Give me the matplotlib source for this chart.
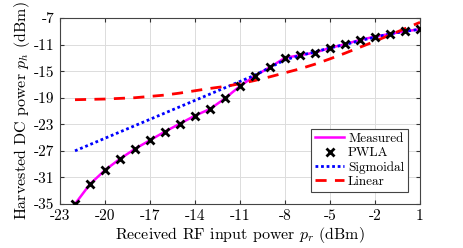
import matplotlib
matplotlib.use("Agg")
import matplotlib.pyplot as plt

pr = [-22, -21, -20, -19, -18, -17, -16, -15, -14, -13, -12, -11,
      -10, -9, -8, -7, -6, -5, -4, -3, -2, -1, 0, 1]
measured = [-35.0, -32.0, -29.9, -28.2, -26.7, -25.4, -24.1, -22.9, -21.7, -20.7,
            -19.1, -17.25, -15.7, -14.4, -13.0, -12.6, -12.2, -11.5, -10.95, -10.3,
            -9.8, -9.4, -9.0, -8.7]
pwla = measured
sigmoidal = [-27.0, -26.05, -25.1, -24.15, -23.2, -22.25, -21.3, -20.35, -19.4, -18.45,
             -17.5, -16.55, -15.6, -14.45, -13.3, -12.65, -12.1, -11.5, -11.0, -10.4,
             -9.9, -9.4, -9.0, -8.7]
linear = [-19.3, -19.25, -19.2, -19.1, -19.0, -18.8, -18.6, -18.3, -17.95, -17.6,
          -17.3, -16.9, -16.4, -15.85, -15.25, -14.65, -13.95, -13.15, -12.3, -11.4,
          -10.5, -9.55, -8.6, -7.65]

xticks = [-23, -20, -17, -14, -11, -8, -5, -2, 1]
yticks = [-35, -31, -27, -23, -19, -15, -11, -7]

plt.rcParams['font.family'] = 'serif'
plt.rcParams['font.serif'] = ['cmr10', 'DejaVu Serif']
plt.rcParams['mathtext.fontset'] = 'cm'
plt.rcParams['axes.unicode_minus'] = False

fig = plt.figure(figsize=(4.64, 2.48), dpi=100)
ax = fig.add_axes([60/464, 44/248, 360/464, 186/248])

ax.plot(pr, measured, color='#ff00ff', lw=1.8, label='Measured', zorder=3)
ax.plot(pr, pwla, ls='none', marker='x', color='black', ms=6, mew=2, label='PWLA', zorder=5)
ax.plot(pr, sigmoidal, color='blue', lw=2, ls=(0, (1, 1)), label='Sigmoidal', zorder=4)
ax.plot(pr, linear, color='red', lw=2, ls=(0, (4, 3)), label='Linear', zorder=4)

ax.set_xlim(-23, 1)
ax.set_ylim(-35, -7)
ax.set_xticks(xticks)
ax.set_xticklabels([str(t) for t in xticks])
ax.set_yticks(yticks)
ax.set_yticklabels([str(t) for t in yticks])
ax.tick_params(direction='in', top=True, right=True, labelsize=11, length=3,
               color='#333333', pad=4)
ax.grid(True, color='#dcdcdc', lw=0.7)
ax.set_axisbelow(True)
for s in ax.spines.values():
    s.set_color('#444444')
    s.set_linewidth(0.8)

ax.set_xlabel('Received RF input power $p_r$ (dBm)', fontsize=11.5, labelpad=1)
ax.set_ylabel('Harvested DC power $p_h$ (dBm)', fontsize=11.5, labelpad=1)

leg = ax.legend(loc='lower right', bbox_to_anchor=(0.967, 0.065), borderaxespad=0,
                fontsize=9.5, fancybox=False, framealpha=1, edgecolor='#444444',
                handlelength=2.2, handletextpad=0.3, borderpad=0.3, labelspacing=0.15)
leg.get_frame().set_linewidth(0.8)

fig.savefig('out.png', dpi=100)
